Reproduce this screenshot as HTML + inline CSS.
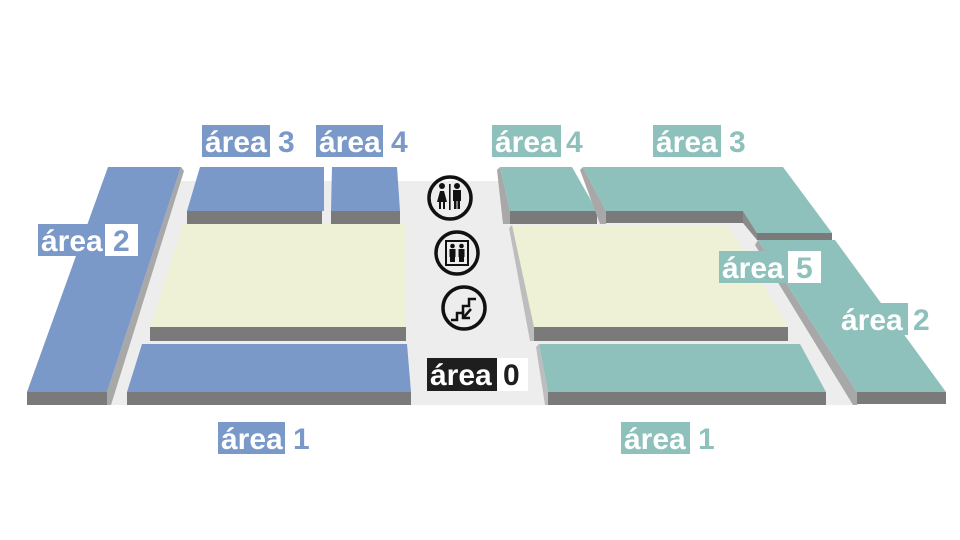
<!DOCTYPE html>
<html><head><meta charset="utf-8"><style>
html,body{margin:0;padding:0;background:#fff;}
svg{display:block;}
text{font-family:"Liberation Sans","DejaVu Sans",sans-serif;font-weight:bold;}
</style></head><body>
<svg width="960" height="540" viewBox="0 0 960 540" xmlns="http://www.w3.org/2000/svg">
<rect width="960" height="540" fill="#fff"/>
<polygon points="180,181 499,181 548,405 107,405" fill="#ededed"/>
<polygon points="499,181 505,181 745,222 760,240 860,405 548,405" fill="#ededed"/>

<polygon points="181,167 184,171 111,405 107,405 107,392" fill="#a8a8a8"/>
<polygon points="108,167 181,167 107,392 27,392" fill="#7a98c8"/>
<rect x="27" y="392" width="80" height="13" fill="#7a7a7a"/>
<polygon points="200,167 324,167 324,211 187,211" fill="#7a98c8"/>
<rect x="187" y="211" width="135" height="13" fill="#7a7a7a"/>
<polygon points="332,167 397,167 400,211 331,211" fill="#7a98c8"/>
<rect x="331" y="211" width="69" height="13" fill="#7a7a7a"/>
<polygon points="183,224 405,224 406,327 150,327" fill="#eef1d6"/>
<rect x="150" y="327" width="256" height="14" fill="#7a7a7a"/>
<polygon points="142,344 407,344 411,392 127,392" fill="#7a98c8"/>
<rect x="127" y="392" width="284" height="13" fill="#7a7a7a"/>

<polygon points="500,167 510,211 510,224 503,224 497,170" fill="#a8a8a8"/>
<polygon points="500,167 572,167 597,211 510,211" fill="#8ec1bc"/>
<rect x="510" y="211" width="87" height="13" fill="#7a7a7a"/>
<polygon points="583,167 606,211 606,224 600,224 580,170" fill="#a8a8a8"/>
<polygon points="583,167 783,167 832,233 757,233 743,211 606,211" fill="#8ec1bc"/>
<rect x="606" y="211" width="137" height="12" fill="#7a7a7a"/>
<polygon points="743,211 757,233 757,240 743,223" fill="#8a8a8a"/>
<rect x="757" y="233" width="75" height="7" fill="#7a7a7a"/>
<polygon points="512,225 728,225 788,327 534,327" fill="#eef1d6"/>
<polygon points="512,225 534,327 534,341 530,341 509,228" fill="#bdbdbd"/>
<rect x="534" y="327" width="254" height="14" fill="#7a7a7a"/>
<polygon points="539,344 800,344 826,392 548,392" fill="#8ec1bc"/>
<polygon points="539,344 548,392 548,405 545,405 536,347" fill="#bdbdbd"/>
<rect x="548" y="392" width="278" height="13" fill="#7a7a7a"/>
<polygon points="758,240 857,392 857,405 853,405 755,245" fill="#a8a8a8"/>
<polygon points="758,240 835,240 946,392 857,392" fill="#8ec1bc"/>
<rect x="857" y="392" width="89" height="12" fill="#7a7a7a"/>

<g fill="none" stroke="#111" stroke-width="3.5">
<circle cx="450" cy="198" r="21"/>
<circle cx="457" cy="253" r="21"/>
<circle cx="464" cy="308" r="21"/>
</g>
<g fill="#111">
<circle cx="442" cy="186" r="3"/>
<polygon points="437,202 447,202 444,191 440,191"/>
<rect x="439" y="202" width="2" height="7"/><rect x="443" y="202" width="2" height="7"/>
<rect x="449" y="184" width="1.6" height="26"/>
<circle cx="457" cy="186" r="3"/>
<rect x="453" y="190" width="8" height="11"/>
<rect x="454" y="200" width="2.5" height="9"/><rect x="457.5" y="200" width="2.5" height="9"/>
</g>
<rect x="446" y="241" width="22" height="24" fill="none" stroke="#111" stroke-width="2"/>
<g fill="#111">
<circle cx="452.5" cy="246" r="2.3"/><rect x="449.5" y="249" width="6" height="8"/><rect x="450" y="256" width="5" height="6"/>
<circle cx="461.5" cy="246" r="2.3"/><rect x="458.5" y="249" width="6" height="8"/><rect x="459" y="256" width="5" height="6"/>
</g>
<polyline points="451,320 457,320 457,313 463,313 463,306 469,306 469,299 476,299" fill="none" stroke="#111" stroke-width="2.5"/>
<line x1="471" y1="309" x2="464" y2="317" stroke="#111" stroke-width="2.5"/>
<polyline points="463,311 463,318 470,318" fill="none" stroke="#111" stroke-width="2.5"/>

<g font-size="30">
<rect x="202" y="125" width="68" height="32" fill="#7a98c8"/>
<text x="205" y="152" fill="#fff">área</text><text x="278" y="152" fill="#7a98c8">3</text>
<rect x="316" y="125" width="67" height="32" fill="#7a98c8"/>
<text x="319" y="152" fill="#fff">área</text><text x="391" y="152" fill="#7a98c8">4</text>
<rect x="38" y="224" width="67" height="32" fill="#7a98c8"/>
<text x="41" y="251" fill="#fff">área</text>
<rect x="105" y="224" width="33" height="32" fill="#fff"/><text x="113" y="251" fill="#7a98c8">2</text>
<rect x="218" y="422" width="67" height="32" fill="#7a98c8"/>
<text x="221" y="449" fill="#fff">área</text><text x="293" y="449" fill="#7a98c8">1</text>
<rect x="492" y="125" width="69" height="32" fill="#8ec1bc"/>
<text x="495" y="152" fill="#fff">área</text><text x="566" y="152" fill="#8ec1bc">4</text>
<rect x="653" y="125" width="68" height="32" fill="#8ec1bc"/>
<text x="656" y="152" fill="#fff">área</text><text x="729" y="152" fill="#8ec1bc">3</text>
<rect x="719" y="251" width="69" height="32" fill="#8ec1bc"/>
<text x="722" y="278" fill="#fff">área</text>
<rect x="788" y="251" width="33" height="32" fill="#fff"/><text x="796" y="278" fill="#8ec1bc">5</text>
<rect x="838" y="303" width="70" height="32" fill="#8ec1bc"/>
<text x="841" y="330" fill="#fff">área</text>
<rect x="908" y="303" width="26" height="32" fill="#fff"/>
<text x="913" y="330" fill="#8ec1bc">2</text>
<rect x="621" y="422" width="69" height="32" fill="#8ec1bc"/>
<text x="624" y="449" fill="#fff">área</text><text x="698" y="449" fill="#8ec1bc">1</text>
<rect x="427" y="358" width="70" height="33" fill="#1e1e1e"/>
<text x="430" y="385" fill="#fff">área</text>
<rect x="497" y="358" width="31" height="33" fill="#fff"/><text x="503" y="385" fill="#1e1e1e">0</text>
</g>
</svg>
</body></html>
